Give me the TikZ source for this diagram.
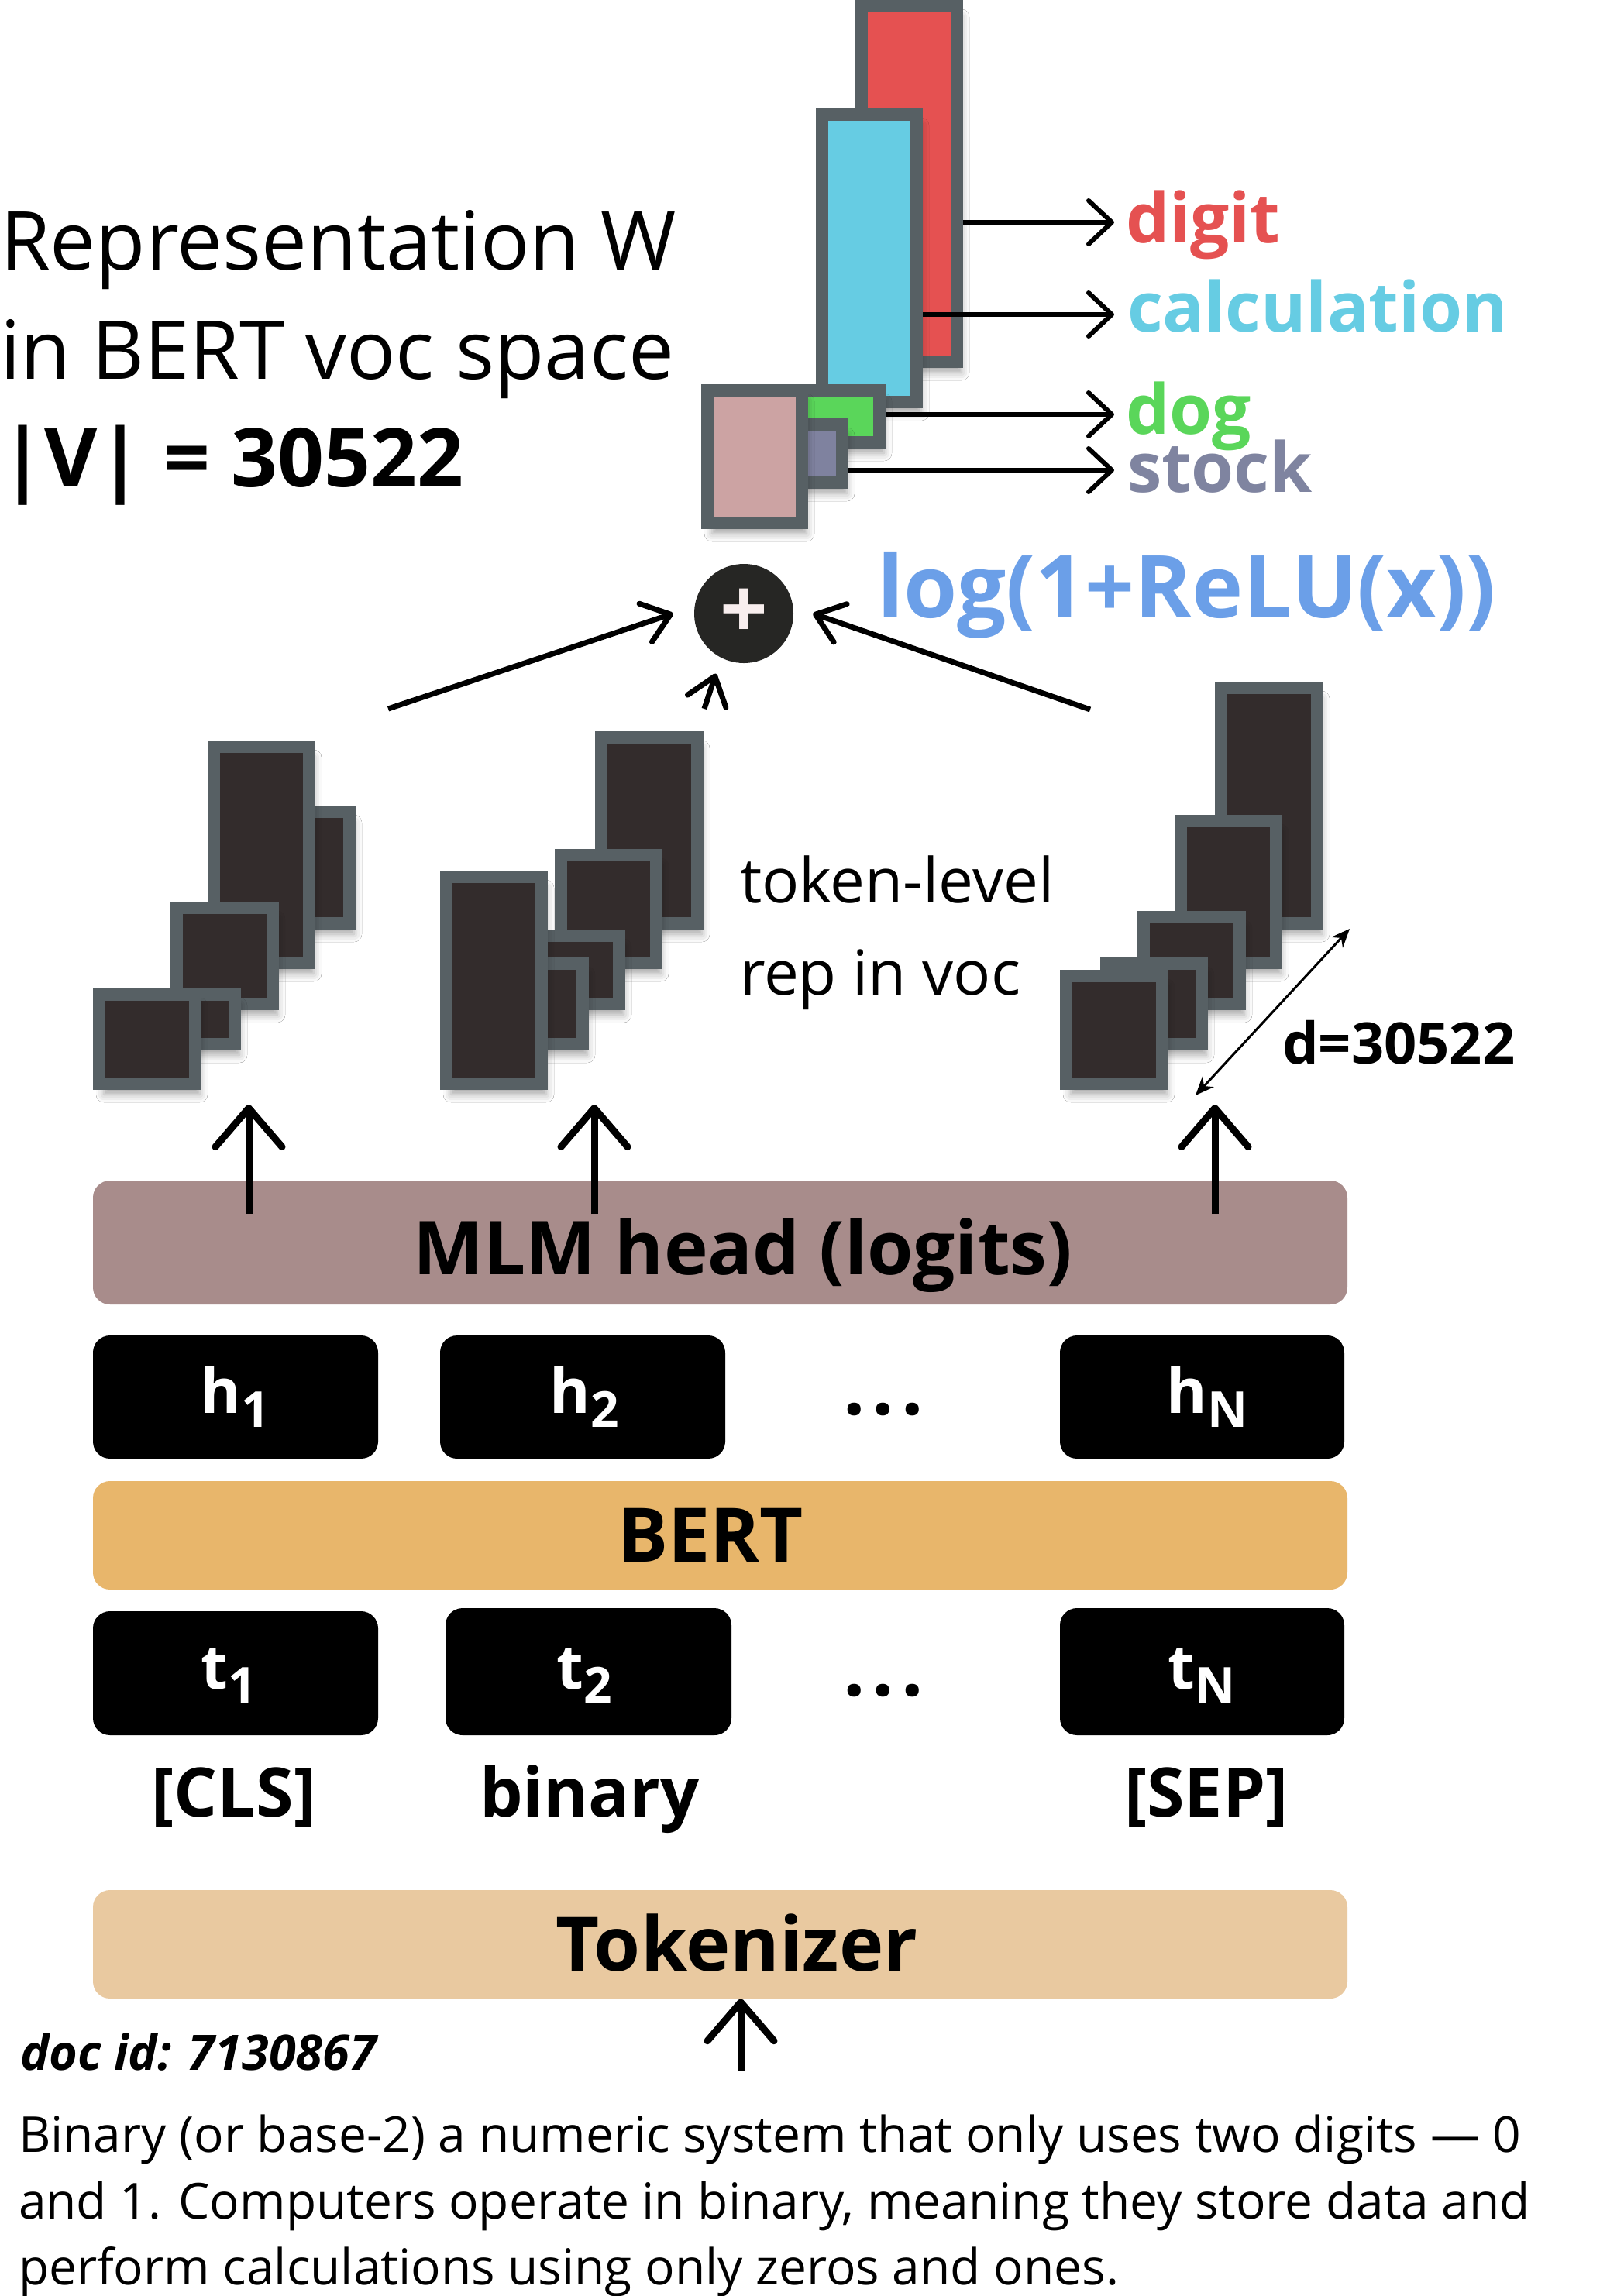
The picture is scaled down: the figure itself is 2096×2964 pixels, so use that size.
\documentclass[tikz,border=0pt]{standalone}
\usepackage{fontspec}
\setmainfont{Open Sans}
\usetikzlibrary{arrows.meta,shadows.blur,calc}
\definecolor{bgray}{HTML}{576064}
\definecolor{cinner}{HTML}{332C2C}
\definecolor{cred}{HTML}{E55151}
\definecolor{ccyan}{HTML}{66CCE3}
\definecolor{cgreen}{HTML}{5AD65A}
\definecolor{cpurple}{HTML}{7F829F}
\definecolor{cpink}{HTML}{CCA3A3}
\definecolor{cmlm}{HTML}{A88C8B}
\definecolor{cbert}{HTML}{E8B66B}
\definecolor{ctok}{HTML}{E9C9A0}
\definecolor{cblue}{HTML}{6B9FE8}
\definecolor{cplus}{HTML}{262624}
\definecolor{cplusw}{HTML}{F8EEEE}
\definecolor{cstock}{HTML}{7F84A0}
\newcommand\fsz[1]{\fontsize{#1}{#1}\selectfont}
\newcommand\subs[1]{\raisebox{-18pt}{\fsz{64}#1}}
\newcommand\tdots{.\kern9pt.\kern9pt.}
\newcommand\vecbx[6]{%
  \pgfmathsetmacro\bxw{#4-#2-16}%
  \pgfmathsetmacro\bxh{#5-#3-16}%
  \node[vb, fill=#6, minimum width=\bxw pt, minimum height=\bxh pt] (#1) at ({(#2+#4)/2},{(#3+#5)/2}) {};}
\begin{document}
\begin{tikzpicture}[x=1pt,y=-1pt,
  vb/.style={draw=bgray, line width=16pt, inner sep=0pt,
    blur shadow={shadow xshift=6pt, shadow yshift=-14pt, shadow blur radius=10pt, shadow opacity=35}},
  layer/.style={rounded corners=22pt, inner sep=0pt, draw=none},
  blk/.style={layer, fill=black},
  txt/.style={inner sep=0pt, outer sep=0pt},
  lblarrow/.style={line width=6pt, -{Straight Barb[length=30pt,width=56pt,round]}},
  uparrow/.style={line width=9pt, -{Straight Barb[length=50pt,width=86pt,round]}},
  sumarrow/.style={line width=7pt, -{Straight Barb[length=34pt,width=52pt,round]}},
  dimarrow/.style={line width=3pt, {Stealth[length=24pt,width=20pt]}-{Stealth[length=24pt,width=20pt]}},
]
\fill[white] (0,0) rectangle (2096,2964);
\useasboundingbox (0,0) rectangle (2096,2964);

% title
\node[txt, anchor=base west] (ti1) at (0,348) {\fsz{105}Representation W};
\node[txt, anchor=base west] (ti2) at (0,489) {\fsz{105}in BERT voc space};
\node[txt, anchor=base west] (ti3) at (0,628) {\fsz{105}\bfseries |V| = 30522};

% W representation
\vecbx{red}{1104}{0}{1243}{475}{cred}
\vecbx{cyan}{1053}{140}{1191}{527}{ccyan}
\vecbx{green}{1003}{496}{1143}{579}{cgreen}
\vecbx{purple}{955}{540}{1095}{631}{cpurple}
\vecbx{pink}{905}{496}{1043}{683}{cpink}

\coordinate (tdig) at (1438,287);
\coordinate (tcal) at (1438,406);
\coordinate (tdog) at (1438,535);
\coordinate (tstk) at (1438,607);
\draw[lblarrow] (red.east |- tdig) -- (tdig);
\draw[lblarrow] (cyan.east |- tcal) -- (tcal);
\draw[lblarrow] (green.east |- tdog) -- (tdog);
\draw[lblarrow] (purple.east |- tstk) -- (tstk);
\node[txt, anchor=base west, text=cred] (digit) at (1453,313) {\fsz{89}\bfseries digit};
\node[txt, anchor=base west, text=ccyan] (calc) at (1455,428) {\fsz{89}\bfseries calculation};
\node[txt, anchor=base west, text=cgreen] (dog) at (1453,560) {\fsz{89}\bfseries dog};
\node[txt, anchor=base west, text=cstock] (stock) at (1455,635) {\fsz{89}\bfseries stock};

\node[txt, anchor=base west, text=cblue] (logt) at (1132,797) {\fsz{112}\bfseries log(1+ReLU(x))};

% plus
\node[circle, fill=cplus, minimum size=128pt, inner sep=0pt] (plus) at (960,792) {\fsz{108}\bfseries\color{cplusw}+};
\coordinate (s1) at (501,915);
\coordinate (s2) at (1407,916);
\coordinate (s3) at (909,915);
\draw[sumarrow] (s1) -- ([xshift=-27pt]plus.west);
\draw[sumarrow] (s2) -- ([xshift=25pt]plus.east);
\draw[sumarrow] (s3) -- ([shift={(-4pt,-22pt)}]plus.-120);

% token-level vectors, group 1
\vecbx{gaB}{319}{1040}{459}{1200}{cinner}
\vecbx{gaA}{268}{956}{407}{1251}{cinner}
\vecbx{gaC}{220}{1164}{360}{1304}{cinner}
\vecbx{gaD}{171}{1276}{311}{1356}{cinner}
\vecbx{gaE}{120}{1276}{260}{1407}{cinner}
% group 2
\vecbx{gbF}{768}{944}{908}{1200}{cinner}
\vecbx{gbG}{716}{1096}{855}{1251}{cinner}
\vecbx{gbH}{667}{1200}{807}{1304}{cinner}
\vecbx{gbI}{620}{1236}{760}{1356}{cinner}
\vecbx{gbJ}{568}{1124}{707}{1407}{cinner}
% group 3
\vecbx{gcK}{1568}{880}{1708}{1200}{cinner}
\vecbx{gcL}{1516}{1052}{1655}{1251}{cinner}
\vecbx{gcM}{1468}{1176}{1608}{1304}{cinner}
\vecbx{gcN}{1420}{1236}{1559}{1356}{cinner}
\vecbx{gcO}{1368}{1252}{1508}{1407}{cinner}

\node[txt, anchor=base west] (tl1) at (955,1165) {\fsz{80}token-level};
\node[txt, anchor=base west] (tl2) at (955,1284) {\fsz{80}rep in voc};

\coordinate (d1) at (1543,1414);
\coordinate (d2) at (1742,1199);
\draw[dimarrow] (d1) -- (d2);
\node[txt, anchor=base west] (dlab) at (1655,1373) {\fsz{74}\bfseries d=30522};

% MLM head
\node[layer, fill=cmlm, minimum width=1619pt, minimum height=160pt] (mlm) at (929.5,1604) {};
\node[txt, anchor=base] (mlmt) at (959,1645) {\fsz{96}\bfseries MLM head (logits)};
\coordinate (ua1) at (321,1567); \coordinate (ub1) at (321,1426);
\coordinate (ua2) at (767,1567); \coordinate (ub2) at (767,1426);
\coordinate (ua3) at (1568,1567); \coordinate (ub3) at (1568,1426);
\draw[uparrow] (ua1) -- (ub1);
\draw[uparrow] (ua2) -- (ub2);
\draw[uparrow] (ua3) -- (ub3);

% hidden states
\node[blk, minimum width=368pt, minimum height=159pt] (h1) at (304,1803.5) {};
\node[blk, minimum width=368pt, minimum height=159pt] (h2) at (752,1803.5) {};
\node[blk, minimum width=367pt, minimum height=159pt] (hN) at (1551.5,1803.5) {};
\node[txt, anchor=base, text=white] (h1t) at (303,1824) {\fsz{80}\bfseries h\subs{1}};
\node[txt, anchor=base, text=white] (h2t) at (754,1824) {\fsz{80}\bfseries h\subs{2}};
\node[txt, anchor=base, text=white] (hNt) at (1558,1824) {\fsz{80}\bfseries h\subs{N}};
\node[txt, anchor=base] (hdots) at (1140,1826) {\fsz{100}\bfseries\tdots};

% BERT
\node[layer, fill=cbert, minimum width=1619pt, minimum height=140pt] (bert) at (929.5,1982) {};
\node[txt, anchor=base] (bertt) at (917,2016) {\fsz{97}\bfseries BERT};

% tokens
\node[blk, minimum width=368pt, minimum height=160pt] (t1) at (304,2160) {};
\node[blk, minimum width=369pt, minimum height=164pt] (t2) at (759.5,2158) {};
\node[blk, minimum width=367pt, minimum height=164pt] (tN) at (1551.5,2158) {};
\node[txt, anchor=base, text=white] (t1t) at (295,2180) {\fsz{80}\bfseries t\subs{1}};
\node[txt, anchor=base, text=white] (t2t) at (754,2180) {\fsz{80}\bfseries t\subs{2}};
\node[txt, anchor=base, text=white] (tNt) at (1551,2180) {\fsz{80}\bfseries t\subs{N}};
\node[txt, anchor=base] (tdotsn) at (1140,2189) {\fsz{100}\bfseries\tdots};

\node[txt, anchor=base] (w1) at (302,2345) {\fsz{88}\bfseries [CLS]};
\node[txt, anchor=base] (w2) at (761,2345) {\fsz{88}\bfseries binary};
\node[txt, anchor=base] (w3) at (1557,2345) {\fsz{88}\bfseries [SEP]};

% Tokenizer
\node[layer, fill=ctok, minimum width=1619pt, minimum height=140pt] (tok) at (929.5,2510) {};
\node[txt, anchor=base] (tokt) at (951,2544) {\fsz{97}\bfseries Tokenizer};
\coordinate (tk0) at (956,2674);
\draw[uparrow] (tk0) -- (tok.south -| tk0);

% document
\node[txt, anchor=base west] (doc) at (26,2672) {\fsz{63}\bfseries\itshape doc id: 7130867};
\node[txt, anchor=base west] (p1) at (24,2778) {\fsz{64}Binary (or base-2) a numeric system that only uses two digits — 0};
\node[txt, anchor=base west] (p2) at (24,2864) {\fsz{64}and 1. Computers operate in binary, meaning they store data and};
\node[txt, anchor=base west] (p3) at (24,2949) {\fsz{64}perform calculations using only zeros and ones.};
\end{tikzpicture}
\end{document}
